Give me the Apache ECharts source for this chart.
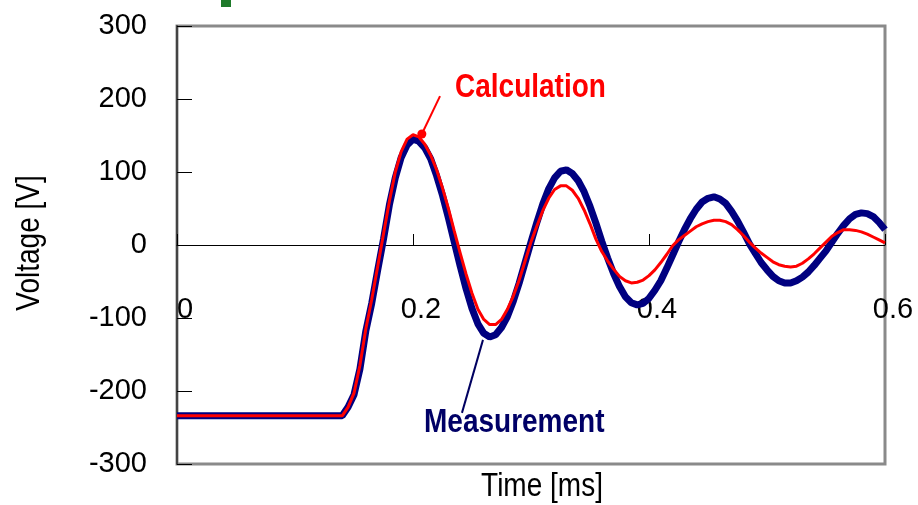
<!DOCTYPE html>
<html>
<head>
<meta charset="utf-8">
<script src="https://cdn.jsdelivr.net/npm/echarts@6/dist/echarts.min.js"></script>
<style>
  html, body { margin: 0; padding: 0; background: #fff; }
  #chart { width: 918px; height: 505px; }
</style>
</head>
<body>
<div id="chart"></div>
<script>
// Time samples [ms]
const timeMs = [
  0,
  0.140, 0.145, 0.150, 0.155, 0.160, 0.165, 0.170, 0.175, 0.180, 0.185, 0.190, 0.195, 0.200,
  0.205, 0.210, 0.215, 0.220, 0.225, 0.230, 0.235,
  0.240, 0.245, 0.250, 0.255, 0.260, 0.265,
  0.270, 0.275, 0.280, 0.285, 0.290, 0.295,
  0.300, 0.305, 0.310, 0.315, 0.320, 0.325,
  0.330, 0.335, 0.340, 0.345, 0.350, 0.355,
  0.360, 0.365, 0.370, 0.375, 0.380, 0.385,
  0.390, 0.395, 0.400, 0.405, 0.410, 0.415, 0.420,
  0.425, 0.430, 0.435, 0.440, 0.445, 0.450, 0.455, 0.460,
  0.465, 0.470, 0.475, 0.480, 0.485,
  0.490, 0.495, 0.500, 0.505, 0.510, 0.515, 0.520,
  0.525, 0.530, 0.535, 0.540, 0.545,
  0.550, 0.555, 0.560, 0.565, 0.570, 0.575, 0.580, 0.585, 0.590, 0.595, 0.600
];

// Measured voltage [V]
const measuredV = [
  -234,
  -234, -222, -205, -170, -118, -80, -35, 8, 55, 92, 120, 137, 145,
  142, 133, 118, 95, 68, 37, 4,
  -29, -60, -87, -108, -121, -126,
  -123, -113, -98, -77, -52, -24,
  4, 31, 56, 77, 92, 101,
  103, 98, 88, 73, 53, 30,
  5, -18, -39, -57, -71, -79,
  -82, -80, -73, -62, -49, -32, -14,
  4, 21, 36, 49, 59, 64, 66, 63,
  57, 46, 33, 18, 2,
  -11, -24, -34, -43, -49, -52, -52,
  -49, -44, -37, -28, -18,
  -8, 4, 16, 27, 36, 42, 44, 43, 39, 31, 21
];

// Calculated voltage [V]
const calculatedV = [
  -234,
  -234, -222, -203, -165, -115, -75, -30, 15, 60, 100, 128, 145, 151,
  148, 138, 123, 103, 78, 50, 19,
  -11, -40, -66, -88, -102, -109,
  -109, -102, -88, -70, -48, -22,
  4, 26, 47, 64, 76, 81,
  81, 75, 64, 48, 29, 8,
  -9, -22, -33, -43, -49, -52,
  -51, -48, -42, -34, -24, -13, -1,
  7, 13, 19, 25, 29, 32, 34, 34,
  32, 28, 21, 13, 4,
  -4, -11, -17, -23, -27, -29, -30,
  -29, -25, -19, -12, -4,
  4, 12, 17, 21, 21, 20, 18, 15, 11, 7, 3
];

// Axis ticks
const xTicks = { min: 0, max: 0.6, step: 0.2 };
const yTicks = { min: -300, max: 300, step: 100 };

// Callout anchors (data coordinates): point on curve, then end toward the text
const calcCallout = [[0.2075, 152], [0.2229, 204]];
const measCallout = [[0.2593, -130], [0.2415, -230]];

const FONT = '"Liberation Sans", Arial, sans-serif';
// text in this figure is drawn slightly tall
const TALL = 1.2;

const pair = (vals) => timeMs.map((t, i) => [t, vals[i]]);

const chart = echarts.init(document.getElementById('chart'), null, { renderer: 'canvas' });

chart.setOption({
  animation: false,
  backgroundColor: '#ffffff',
  grid: {
    left: 177, top: 26, right: 33, bottom: 41,
    containLabel: false,
    outerBoundsMode: 'none',
    show: true, borderColor: '#8a8a8a', borderWidth: 3, backgroundColor: 'transparent'
  },
  xAxis: [
    {
      // zero line with upward ticks
      type: 'value',
      min: xTicks.min, max: xTicks.max, interval: xTicks.step,
      axisLine: { onZero: true, lineStyle: { color: '#000', width: 1 } },
      axisTick: { inside: true, length: 11, lineStyle: { color: '#000', width: 1 } },
      axisLabel: { show: false },
      splitLine: { show: false }
    },
    {
      // tick labels, lifted into the plot just below the zero line
      type: 'value',
      position: 'bottom',
      min: xTicks.min, max: xTicks.max, interval: xTicks.step,
      axisLine: { show: false, onZero: false },
      axisTick: { show: false },
      axisLabel: {
        margin: -169, fontSize: 29, color: '#000', fontFamily: FONT,
        padding: [0, 0, 0, 16],
        hideOverlap: false,
        showMinLabel: true, showMaxLabel: true,
        formatter: (v) => String(Math.round(v * 10) / 10)
      },
      splitLine: { show: false }
    }
  ],
  yAxis: {
    type: 'value',
    min: yTicks.min, max: yTicks.max, interval: yTicks.step,
    axisLine: { show: true, onZero: false, lineStyle: { color: '#444', width: 2 } },
    axisTick: { show: true, inside: true, length: 15, lineStyle: { color: '#000', width: 1 } },
    axisLabel: { margin: 30, fontSize: 29, color: '#000', fontFamily: FONT },
    splitLine: { show: false }
  },
  series: [
    {
      name: 'Measurement',
      type: 'line',
      data: pair(measuredV),
      showSymbol: false,
      lineStyle: { color: '#000080', width: 7 },
      z: 2
    },
    {
      name: 'Calculation',
      type: 'line',
      data: pair(calculatedV),
      showSymbol: false,
      lineStyle: { color: '#ff0000', width: 3 },
      z: 3
    },
    {
      name: 'calc-callout',
      type: 'line',
      data: calcCallout,
      symbol: (v, p) => (p.dataIndex === 0 ? 'circle' : 'none'),
      symbolSize: 9,
      itemStyle: { color: '#ff0000' },
      lineStyle: { color: '#ff0000', width: 2 },
      z: 4
    },
    {
      name: 'meas-callout',
      type: 'line',
      data: measCallout,
      showSymbol: false,
      lineStyle: { color: '#000060', width: 2 },
      z: 4
    }
  ],
  graphic: [
    { type: 'rect', x: 221, y: 0, shape: { width: 10, height: 7 }, style: { fill: '#1e7a2a' } },
    {
      type: 'text', x: 455, y: 88, scaleY: TALL,
      style: { text: 'Calculation', font: 'bold 28px ' + FONT, fill: '#ff0000', textVerticalAlign: 'middle' }
    },
    {
      type: 'text', x: 424, y: 423, scaleY: TALL,
      style: { text: 'Measurement', font: 'bold 28px ' + FONT, fill: '#000066', textVerticalAlign: 'middle' }
    },
    {
      type: 'text', x: 542, y: 487, scaleY: TALL,
      style: { text: 'Time [ms]', font: '28px ' + FONT, fill: '#000', textAlign: 'center', textVerticalAlign: 'middle' }
    },
    {
      type: 'text', x: 30, y: 243, rotation: Math.PI / 2, scaleY: TALL,
      style: { text: 'Voltage [V]', font: '28px ' + FONT, fill: '#000', textAlign: 'center', textVerticalAlign: 'middle' }
    }
  ]
});
</script>
</body>
</html>
